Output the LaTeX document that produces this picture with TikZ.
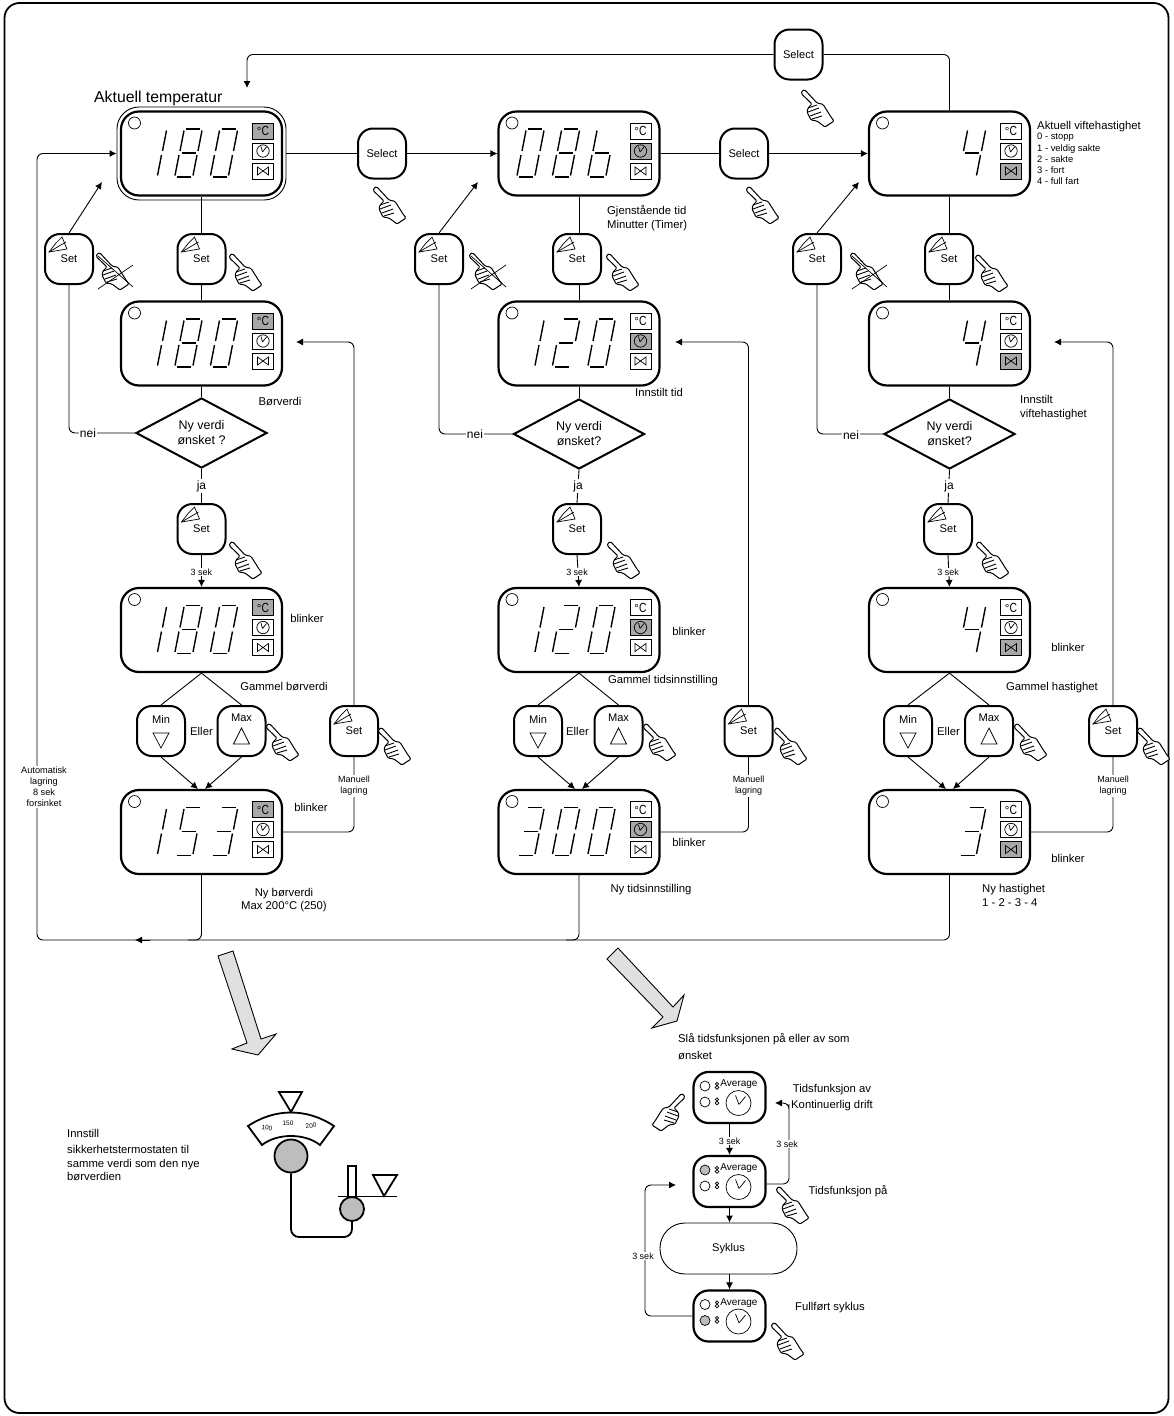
\documentclass[tikz,border=0pt]{standalone}
\usepackage{fontspec}
\setmainfont{Liberation Sans}
\usetikzlibrary{arrows.meta,shapes.geometric}
\definecolor{dispgray}{gray}{0.66}
\definecolor{knobgray}{gray}{0.74}
\definecolor{arrowgray}{gray}{0.88}
\tikzset{
  conn/.style={line width=0.9pt,rounded corners=6pt},
  arr/.style={conn,-{Latex[length=7pt,width=7pt]}},
  dispnode/.style={draw,line width=2.2pt,rounded corners=18pt,fill=white,minimum width=161pt,minimum height=84pt,inner sep=0pt},
  dispouter/.style={draw,line width=0.9pt,rounded corners=22pt,fill=white,minimum width=169pt,minimum height=93pt,inner sep=0pt},
  btn/.style={draw,line width=2pt,rounded corners=15pt,fill=white,minimum width=48pt,minimum height=50pt,inner sep=0pt,font=\fontsize{11.1}{12}\selectfont},
  timerbtn/.style={draw,line width=2.2pt,rounded corners=15pt,fill=white,minimum width=72pt,minimum height=51pt,inner sep=0pt},
  seg/.style={line width=1.4pt},
  thin/.style={line width=0.7pt},
  thick2/.style={line width=1.8pt},
  handline/.style={line width=1pt,fill=white,rounded corners=1.2pt},
  lab/.style={inner sep=0pt,font=\fontsize{11.3}{13.7}\selectfont,align=left},
  labw/.style={inner sep=1pt,fill=white,font=\fontsize{12}{13}\selectfont},
  small/.style={inner sep=1pt,font=\fontsize{9}{11}\selectfont,align=center},
  smallw/.style={small,fill=white},
  tiny3/.style={inner sep=0pt,font=\fontsize{6.5}{8}\selectfont},
  dia/.style={diamond,draw,line width=2pt,fill=white,aspect=1.87,minimum width=131pt,minimum height=70pt,inner sep=0pt,align=center,font=\fontsize{12.5}{15}\selectfont},
}
% seven segments, local origin = bottom-left
\def\sga{(11,-48)--(25,-48)}
\def\sgb{(27,-46.5)--(23,-26)}
\def\sgc{(22,-22)--(18,-1.5)}
\def\sgd{(2,0)--(16,0)}
\def\sge{(4,-22)--(0,-1.5)}
\def\sgf{(9,-46.5)--(5,-26)}
\def\sgg{(6.5,-24)--(20.5,-24)}
\def\sgx{(0,0)}
\def\dnone{\sgx}
\def\dzero{\sga,\sgb,\sgc,\sgd,\sge,\sgf}
\def\done{\sgb,\sgc}
\def\dtwo{\sga,\sgb,\sgg,\sge,\sgd}
\def\dthree{\sga,\sgb,\sgg,\sgc,\sgd}
\def\dfour{\sgf,\sgb,\sgg,\sgc}
\def\dfive{\sga,\sgf,\sgg,\sgc,\sgd}
\def\deight{\sga,\sgb,\sgc,\sgd,\sge,\sgf,\sgg}
\def\db{\sgf,\sge,\sgg,\sgc,\sgd}
\newcommand\dgt[3]{\begin{scope}[shift={(#1,#2)}]\foreach \s in #3 {\draw[seg] \s;}\end{scope}}
% display: name, cx, cy, d1, d2, d3, active icon
\newcommand\dispat[7]{%
  \node[dispnode] (#1) at (#2,#3) {};
  \begin{scope}[shift={(#2-81,#3-42.5)}]
    \draw[thin] (14,12) circle (6);
    \dgt{19}{66}{#4}\dgt{54.5}{66}{#5}\dgt{90}{66}{#6}
    \ifnum#7=1 \def\fa{dispgray}\else\def\fa{white}\fi
    \ifnum#7=2 \def\fb{dispgray}\else\def\fb{white}\fi
    \ifnum#7=3 \def\fc{dispgray}\else\def\fc{white}\fi
    \draw[thin,fill=\fa] (132,12) rectangle (153,28);
    \node[inner sep=0pt,font=\fontsize{11.5}{12}\selectfont] (#1-c) at (142.5,20) {°\scalebox{0.9}[1.15]{C}};
    \draw[thin,fill=\fb] (132,32) rectangle (153,48);
    \draw[thin] (142.5,40) circle (6.2);
    \draw[thin] (142,41) -- (140.5,35.5) (142,41) -- (146,36);
    \draw[thin,fill=\fc] (132,52) rectangle (153,68);
    \draw[thin] (137,56) -- (137,64) -- (148,56) -- (148,64) -- cycle;
  \end{scope}}
% hand with fingertip at given point
\newcommand\handat[3][]{\begin{scope}[shift={(#2,#3)},#1]
  \draw[handline] (0,0) -- (2.7,-1.3) -- (15,12) -- (21,13.3) -- (29,26) -- (32,30) -- (23,36) -- (15,30) -- (9,29) -- (5,21) -- (6,17) -- (10,13) -- (-0.7,2.7) -- cycle;
  \draw[line width=0.9pt] (6,17) -- (15,14) (6,21) -- (17,17) (8,25) -- (19,21) (10,28) -- (20,25);
\end{scope}}
\newcommand\crossat[2]{\begin{scope}[shift={(#1,#2)}]
  \draw[thin] (1,35) -- (36,11) (1,2) -- (36,33);
\end{scope}}
% Set button
\newcommand\setbtn[3]{%
  \node[btn] (#1) at (#2,#3) {\raisebox{-4pt}{Set}};
  \begin{scope}[shift={(#2,#3)}]
    \draw[thin] (-7,-22) -- (-2,-10) -- (-20,-7) -- (-13,-16) -- cycle;
    \draw[thin] (-20,-7) -- (-3,-17);
  \end{scope}}
\newcommand\minbtn[3]{%
  \node[btn] (#1) at (#2,#3) {};
  \node[inner sep=0pt,font=\fontsize{11.1}{12}\selectfont] (#1-t) at (#2,#3-12) {Min};
  \begin{scope}[shift={(#2,#3)}]\draw[thin] (-8,2) -- (8,2) -- (0,17) -- cycle;\end{scope}}
\newcommand\maxbtn[3]{%
  \node[btn] (#1) at (#2,#3) {};
  \node[inner sep=0pt,font=\fontsize{11.1}{12}\selectfont] (#1-t) at (#2,#3-13) {Max};
  \begin{scope}[shift={(#2,#3)}]\draw[thin] (-8,13) -- (8,13) -- (0,-3) -- cycle;\end{scope}}
% timer box: name,cx,cy,fillA,fillB
\newcommand\timerat[5]{%
  \node[timerbtn] (#1) at (#2,#3) {};
  \begin{scope}[shift={(#2,#3)}]
    \draw[thin,fill=#4] (-24.5,-11.5) circle (5);
    \draw[thin,fill=#5] (-24.5,4.5) circle (5);
    \draw[thin] (-12.5,-13.5) circle (1.7) (-12.5,-10) circle (1.9) (-12.5,2) circle (1.7) (-12.5,5.5) circle (1.9);
    \draw[thin] (9,5.5) circle (12.5);
    \draw[thin] (9.5,7) -- (6,-2) (9.5,7) -- (16,-1);
    \node[inner sep=0pt,font=\fontsize{10}{11}\selectfont] (#1-t) at (9.5,-13) {Average};
  \end{scope}}
\begin{document}
\begin{tikzpicture}[x=1pt,y=-1pt]
\useasboundingbox (0,0) rectangle (1173,1416);
\node[draw,line width=1.8pt,rounded corners=15pt,minimum width=1164pt,minimum height=1410pt,inner sep=0pt] (frame) at (586.5,708) {};

% ---------- displays
\node[dispouter] (d1o) at (201.5,153.5) {};
\dispat{a1}{201.5}{153.5}{\done}{\deight}{\dzero}{1}
\dispat{a2}{201.5}{343.5}{\done}{\deight}{\dzero}{1}
\dispat{a3}{201.5}{630}{\done}{\deight}{\dzero}{1}
\dispat{a4}{201.5}{832}{\done}{\dfive}{\dthree}{1}
\dispat{b1}{579}{153.5}{\dzero}{\deight}{\db}{2}
\dispat{b2}{579}{343.5}{\done}{\dtwo}{\dzero}{2}
\dispat{b3}{579}{630}{\done}{\dtwo}{\dzero}{2}
\dispat{b4}{579}{832}{\dthree}{\dzero}{\dzero}{2}
\dispat{c1}{949.5}{153.5}{\dnone}{\dnone}{\dfour}{3}
\dispat{c2}{949.5}{343.5}{\dnone}{\dnone}{\dfour}{3}
\dispat{c3}{949.5}{630}{\dnone}{\dnone}{\dfour}{3}
\dispat{c4}{949.5}{832}{\dnone}{\dnone}{\dthree}{3}

% ---------- select buttons
\node[btn] (sel1) at (382,153.5) {Select};
\node[btn] (sel2) at (744,153.5) {Select};
\node[btn] (selT) at (798.5,54.5) {Select};
\handat{374}{188}
\handat{747}{188}
\handat{802}{91}

% ---------- set buttons
\setbtn{sLa}{69}{259}\setbtn{sMa}{201.5}{259}
\setbtn{sLb}{439}{259}\setbtn{sMb}{577}{259}
\setbtn{sLc}{817}{259}\setbtn{sMc}{949}{259}
\setbtn{sNa}{201.5}{529}\setbtn{sNb}{577}{529}\setbtn{sNc}{948}{529}
\setbtn{sRa}{354}{731}\setbtn{sRb}{748.5}{731}\setbtn{sRc}{1113}{731}
\handat{97}{254}\crossat{97}{254}
\handat{230}{255}
\handat{470}{254}\crossat{470}{254}
\handat{607}{255}
\handat{851}{254}\crossat{851}{254}
\handat{976}{256}
\handat{230}{543}\handat{608}{543}\handat{977}{543}
\handat{379}{729}\handat{775}{729}\handat{1138}{729}

% ---------- min / max
\minbtn{mina}{161}{731}\maxbtn{maxa}{241.5}{731}
\minbtn{minb}{538}{731}\maxbtn{maxb}{618.5}{731}
\minbtn{minc}{908}{731}\maxbtn{maxc}{989}{731}
\handat{267}{725}\handat{644}{725}\handat{1015}{725}

% ---------- diamonds
\node[dia] (qa) at (201.5,433) {Ny verdi\\ønsket ?};
\node[dia] (qb) at (579,434) {Ny verdi\\ønsket?};
\node[dia] (qc) at (949.5,434) {Ny verdi\\ønsket?};

% ---------- free coordinates
\coordinate (topT) at (247,88);
\coordinate (busR) at (37,940);
\coordinate (busA) at (150,940);
\coordinate (busB) at (135,940);
\coordinate (busJa) at (188,940);
\coordinate (busJb) at (566,940);
\coordinate (upA) at (102,182);\coordinate (upB) at (478,182);\coordinate (upC) at (859,182);
\coordinate (retA) at (296,342);\coordinate (retB) at (675,342);\coordinate (retC) at (1054,342);
\coordinate (lmA) at (198,789);\coordinate (rmA) at (205,789);
\coordinate (lmB) at (575,789);\coordinate (rmB) at (582,789);
\coordinate (lmC) at (946,789);\coordinate (rmC) at (953,789);

% ---------- connectors, top row
\draw[conn] (d1o.east) -- (sel1.west);
\draw[arr] (sel1.east) -- (b1.west);
\draw[conn] (b1.east) -- (sel2.west);
\draw[arr] (sel2.east) -- (c1.west);
\draw[conn] (c1.north) |- (selT.east);
\draw[arr] (selT.west) -| (topT);
% bus
\draw[arr] (c4.south) |- (busR) |- (d1o.west);
\draw[conn] (a4.south) |- (busJa);
\draw[conn] (b4.south) |- (busJb);
\draw[arr] (busA) -- (busB);
% columns
\foreach \c/\L/\M/\N/\R/\Mi/\Ma/\U/\Ret/\lm/\rm in {
  a/sLa/sMa/sNa/sRa/mina/maxa/upA/retA/lmA/rmA,
  b/sLb/sMb/sNb/sRb/minb/maxb/upB/retB/lmB/rmB,
  c/sLc/sMc/sNc/sRc/minc/maxc/upC/retC/lmC/rmC}{
  \draw[conn] (\c1.south) -- (\c1.south |- \M.north);
  \draw[conn] (\c2.north |- \M.south) -- (\c2.north);
  \draw[conn] (\c2.south) -- (q\c.north);
  \draw[conn] (\L.south) |- (q\c.west);
  \draw[arr] (\L.north) -- (\U);
  \draw[conn] (q\c.south) -- (\N.north);
  \draw[arr] (\N.south) -- (\c3.north);
  \draw[conn] (\c3.south) -- (\Mi.north);
  \draw[conn] (\c3.south) -- (\Ma.north);
  \draw[arr] (\Mi.south) -- (\lm);
  \draw[arr] (\Ma.south) -- (\rm);
  \draw[conn] (\c4.east) -| (\R.south);
  \draw[arr] (\R.north) |- (\Ret);
}

% ---------- labels on connectors
\node[labw] (neia) at (88,433) {nei};
\node[labw] (neib) at (475,434) {nei};
\node[labw] (neic) at (851,435) {nei};
\node[labw] (jaa) at (201.5,486) {ja};
\node[labw] (jab) at (578,486) {ja};
\node[labw] (jac) at (949,486) {ja};
\node[smallw] (sek3a) at (201.5,572) {3 sek};
\node[smallw] (sek3b) at (577,572) {3 sek};
\node[smallw] (sek3c) at (948,572) {3 sek};
\node[smallw] (manA) at (354,786) {Manuell\\lagring};
\node[smallw] (manB) at (748.5,786) {Manuell\\lagring};
\node[smallw] (manC) at (1113,786) {Manuell\\lagring};
\node[smallw,font=\fontsize{9.2}{11}\selectfont] (auto) at (44,787) {Automatisk\\lagring\\8 sek\\forsinket};
\node[lab] (ellera) at (201.5,731) {Eller};
\node[lab] (ellerb) at (577.5,731) {Eller};
\node[lab] (ellerc) at (948.5,731) {Eller};

% ---------- free labels
\node[inner sep=0pt,font=\fontsize{15.8}{18}\selectfont,anchor=west] (t1) at (94,98) {Aktuell temperatur};
\node[lab,anchor=center] (ta2) at (280,402) {Børverdi};
\node[lab] (ta3) at (307,618) {blinker};
\node[lab] (ta4) at (284,687) {Gammel børverdi};
\node[lab] (ta5) at (311,807) {blinker};
\node[lab,align=center] (ta6) at (284,900) {Ny børverdi\\Max 200°C (250)};
\node[lab,anchor=north west] (tb1) at (607,205) {Gjenstående tid\\Minutter (Timer)};
\node[lab] (tb2) at (659,392) {Innstilt tid};
\node[lab] (tb3) at (689,631) {blinker};
\node[lab] (tb4) at (663,681) {Gammel tidsinnstilling};
\node[lab] (tb5) at (689,842) {blinker};
\node[lab] (tb6) at (651,890) {Ny tidsinnstilling};
\node[lab,anchor=west] (tc1) at (1037,127) {Aktuell viftehastighet};
\node[inner sep=0pt,font=\fontsize{9.4}{11.3}\selectfont,align=left,anchor=north west] (tc1b) at (1037,133) {0 - stopp\\1 - veldig sakte\\2 - sakte\\3 - fort\\4 - full fart};
\node[lab,anchor=north west] (tc2) at (1020,395) {Innstilt\\viftehastighet};
\node[lab] (tc3) at (1068,647) {blinker};
\node[lab] (tc4) at (1052,688) {Gammel hastighet};
\node[lab] (tc5) at (1068,858) {blinker};
\node[lab,anchor=north west] (tc6) at (982,884) {Ny hastighet\\1 - 2 - 3 - 4};

% ---------- big arrows
\draw[line width=0.9pt,fill=arrowgray] (218,956) -- (233,951) -- (261,1039) -- (276,1034) -- (258,1055) -- (232,1049) -- (247,1043) -- cycle;
\draw[line width=0.9pt,fill=arrowgray] (618,948) -- (607,959) -- (663,1017) -- (652,1028) -- (677,1021) -- (684,995) -- (673,1007) -- cycle;

% ---------- thermostat
\draw[thick2] (279,1092) -- (302,1092) -- (291,1112) -- cycle;
\draw[thick2] (248,1126) .. controls (275,1108) and (307,1108) .. (334,1126) -- (320,1145) .. controls (305,1133) and (277,1133) .. (262,1145) -- cycle;
\node[tiny3,rotate=-8] (n100) at (267,1128) {100};
\node[tiny3] (n150) at (288,1123) {150};
\node[tiny3,rotate=8] (n200) at (311,1126) {200};
\node[circle,draw,line width=1.8pt,fill=knobgray,minimum size=33pt,inner sep=0pt] (knob) at (291,1156) {};
\node[circle,draw,line width=1.8pt,fill=knobgray,minimum size=24pt,inner sep=0pt] (bulb) at (352,1209) {};
\coordinate (capA) at (291,1237);
\coordinate (capB) at (352,1237);
\draw[thick2,rounded corners=8pt] (knob.south) -- (capA) -- (capB) -- (bulb.south);
\draw[thick2] (bulb.north) ++(-4,0) |- (356,1166) -- (356,1198);
\coordinate (lvA) at (338,1196);\coordinate (lvB) at (397,1196);
\draw[line width=0.8pt] (lvA) -- (lvB);
\draw[thick2] (373,1175) -- (397,1175) -- (384,1196) -- cycle;
\node[lab,anchor=north west] (tTh1) at (67,1129) {Innstill};
\node[lab,anchor=north west] (tTh2) at (67,1145) {sikkerhetstermostaten til\\samme verdi som den nye\\børverdien};

% ---------- timer panel
\node[lab,anchor=north west,font=\fontsize{11.3}{17}\selectfont] (tP) at (678,1033) {Slå tidsfunksjonen på eller av som\\ønsket};
\timerat{pa}{729.5}{1097.5}{white}{white}
\timerat{pb}{729.5}{1181.5}{knobgray}{white}
\timerat{pc}{729.5}{1316}{white}{knobgray}
\node[draw,line width=0.9pt,rounded corners=25pt,fill=white,minimum width=137pt,minimum height=51pt,inner sep=0pt,font=\fontsize{11.1}{12}\selectfont] (syk) at (728.5,1248.5) {Syklus};
\draw[arr] (pa.south) -- (pb.north);
\draw[arr] (pb.south) -- (syk.north -| pb.south);
\draw[arr] (syk.south -| pc.north) -- (pc.north);
\coordinate (retP) at (775,1103);
\coordinate (retQ) at (676,1185);
\draw[arr] (pb.east |- 0,1184) -| (789,1110) |- (retP);
\draw[arr] (pc.west) -| (645,1250) |- (retQ);
\node[smallw] (ps1) at (729.5,1141) {3 sek};
\node[smallw] (ps2) at (787,1144) {3 sek};
\node[smallw] (ps3) at (643,1256) {3 sek};
\node[lab,align=center,font=\fontsize{11.3}{16}\selectfont] (tP1) at (832,1098) {Tidsfunksjon av\\Kontinuerlig drift};
\node[lab] (tP2) at (848,1191) {Tidsfunksjon på};
\node[lab] (tP3) at (830,1308) {Fullført syklus};
\handat[xscale=-1]{684}{1095}
\handat{777}{1188}
\handat{772}{1324}
\end{tikzpicture}
\end{document}
